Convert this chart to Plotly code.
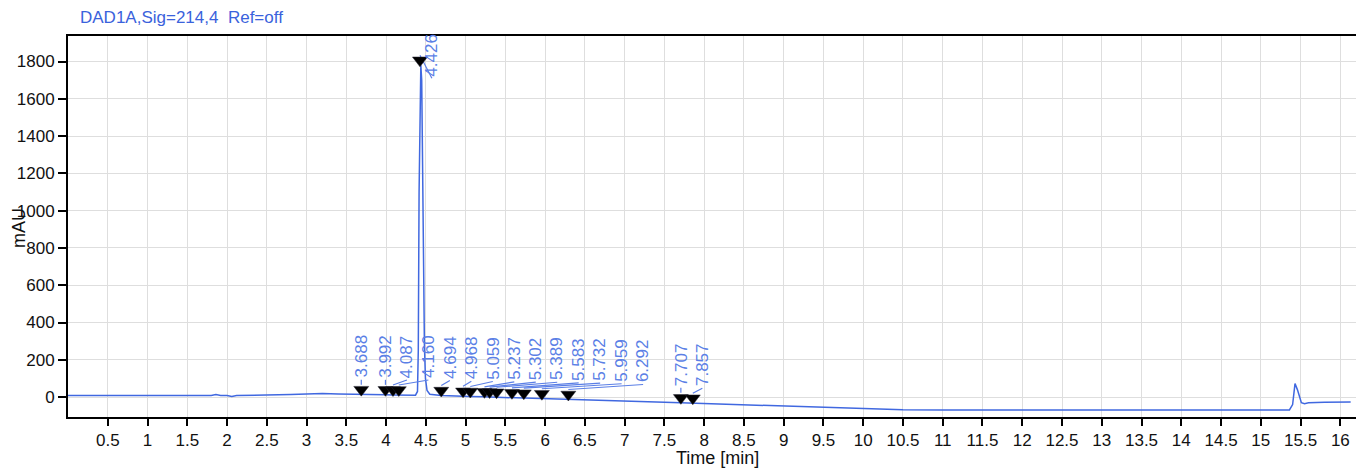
import plotly.graph_objects as go

# ---- data ----
time_min = [0.0, 0.5, 1.0, 1.5, 1.8, 1.86, 1.92, 2.0, 2.06, 2.12, 2.5, 2.8, 3.0, 3.2, 3.4, 3.6,
            3.688, 3.9, 3.992, 4.087, 4.16, 4.3, 4.37, 4.395, 4.405, 4.415, 4.428, 4.437, 4.448,
            4.462, 4.472, 4.482, 4.495, 4.515, 4.55, 4.694, 4.8, 4.968, 5.059, 5.15, 5.237,
            5.302, 5.389, 5.5, 5.583, 5.732, 5.959, 6.292, 6.7, 7.0, 7.5, 7.707, 7.857, 8.0,
            8.5, 9.0, 9.5, 10.0, 10.5, 11.0, 12.0, 13.0, 14.0, 15.0, 15.36, 15.40, 15.43,
            15.46, 15.51, 15.55, 15.6, 15.8, 16.0, 16.13]
signal_mau = [8, 8, 8, 9, 9, 13, 9, 8, 3, 8, 10, 14, 17, 19, 17, 14,
              13, 11, 12, 11, 11, 9, 10, 30, 250, 1100, 1720, 1780, 1700, 1250,
              700, 280, 100, 35, 15, 8, 5, 4, 3, 0, 1,
              0, -1, -4, -4, -6, -9, -13, -18, -22, -28, -31, -33, -36,
              -43, -50, -58, -65, -68, -69, -69, -69, -69, -69, -69, -40, 72,
              40, -30, -36, -31, -28, -28, -27]

peak_times = [3.688, 3.992, 4.087, 4.160, 4.426, 4.694, 4.968, 5.059, 5.237, 5.302, 5.389,
              5.583, 5.732, 5.959, 6.292, 7.707, 7.857]
peak_heights = [13, 12, 11, 11, 1780, 8, 4, 3, 1, 0, -1, -4, -6, -9, -13, -31, -33]

x_tick_vals = [0.5 * i for i in range(1, 33)]
x_tick_text = ["0.5", "1", "1.5", "2", "2.5", "3", "3.5", "4", "4.5", "5", "5.5", "6", "6.5",
               "7", "7.5", "8", "8.5", "9", "9.5", "10", "10.5", "11", "11.5", "12", "12.5",
               "13", "13.5", "14", "14.5", "15", "15.5", "16"]
y_tick_vals = [0, 200, 400, 600, 800, 1000, 1200, 1400, 1600, 1800]

# ---- styling ----
LINE_BLUE = "#4068e0"
LABEL_BLUE = "#5b7fe6"
FONT = "Liberation Sans, Arial, sans-serif"
MAU_PER_PX = 1800 / 335.5
LABEL_GAP = 0.27  # minutes between neighbouring labels

# label placement: push labels right to avoid overlap
label_x = []
label_y = []
prev = None
for t, h in zip(peak_times, peak_heights):
    if h > 1000:
        label_x.append(t + 0.15)
        label_y.append(h - 13 * MAU_PER_PX)
        continue
    lx = t if prev is None else max(t, prev + LABEL_GAP)
    prev = lx
    label_x.append(lx)
    label_y.append(h + 15 * MAU_PER_PX)

marker_y = [h + 5 * MAU_PER_PX for h in peak_heights]

fig = go.Figure()

fig.add_trace(go.Scatter(x=time_min, y=signal_mau, mode="lines",
                         line=dict(color=LINE_BLUE, width=1.5), hoverinfo="skip",
                         showlegend=False))

lx_seg, ly_seg = [], []
for t, h, lx, ly in zip(peak_times, peak_heights, label_x, label_y):
    lx_seg += [lx, t, None]
    ly_seg += [ly, h + 10 * MAU_PER_PX, None]
fig.add_trace(go.Scatter(x=lx_seg, y=ly_seg, mode="lines",
                         line=dict(color=LABEL_BLUE, width=1.2), hoverinfo="skip",
                         showlegend=False))

fig.add_trace(go.Scatter(x=peak_times, y=marker_y, mode="markers",
                         marker=dict(symbol="triangle-down", size=13, color="black",
                                     line=dict(color="#223", width=0.5)),
                         hoverinfo="skip", showlegend=False))

for t, lx, ly in zip(peak_times, label_x, label_y):
    fig.add_annotation(x=lx, y=ly, xref="x", yref="y", text=f"{t:.3f}", textangle=-90,
                       showarrow=False, yanchor="bottom", xanchor="center",
                       font=dict(family=FONT, size=17, color=LABEL_BLUE))

fig.add_annotation(x=(78 - 68) / 1288, y=1 + (36 - 17) / 381, xref="paper", yref="paper",
                   text="DAD1A,Sig=214,4  Ref=off", showarrow=False, xanchor="left",
                   yanchor="middle", font=dict(family=FONT, size=17, color="#3a62dc"))
fig.add_annotation(x=(19 - 68) / 1288, y=(417 - 228) / 381, xref="paper", yref="paper",
                   text="mAU", textangle=-90, showarrow=False, xanchor="center",
                   yanchor="middle", font=dict(family=FONT, size=18, color="#111"))
fig.add_annotation(x=(717 - 68) / 1288, y=(417 - 458) / 381, xref="paper", yref="paper",
                   text="Time [min]", showarrow=False, xanchor="center", yanchor="middle",
                   font=dict(family=FONT, size=18, color="#111"))

fig.update_layout(
    width=1356, height=468,
    margin=dict(l=68, r=0, t=36, b=51),
    paper_bgcolor="white", plot_bgcolor="white",
    font=dict(family=FONT, size=17, color="#111"),
    xaxis=dict(range=[0, 16.197], tickvals=x_tick_vals, ticktext=x_tick_text,
               showgrid=True, gridcolor="#dedede", gridwidth=1, zeroline=False,
               showline=True, linecolor="black", linewidth=2, mirror=True,
               ticks="outside", ticklen=7, tickwidth=2, tickcolor="black",
               tickfont=dict(family=FONT, size=17, color="#111")),
    yaxis=dict(range=[-107, 1937], tickvals=y_tick_vals,
               showgrid=True, gridcolor="#dedede", gridwidth=1, zeroline=False,
               showline=True, linecolor="black", linewidth=2,
               ticks="outside", ticklen=8, tickwidth=2, tickcolor="black",
               tickfont=dict(family=FONT, size=17, color="#111")),
)

fig.write_html("out.html", config={"displayModeBar": False},
               post_script="document.body.style.margin='0';"
                           "document.body.style.overflow='hidden';")
